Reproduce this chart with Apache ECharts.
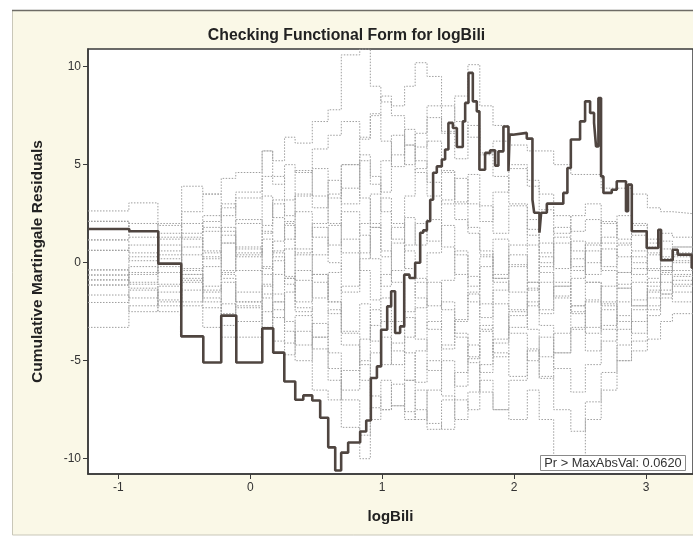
<!DOCTYPE html>
<html>
<head>
<meta charset="utf-8">
<script src="https://cdn.jsdelivr.net/npm/echarts@6/dist/echarts.min.js"></script>
<style>html,body{margin:0;padding:0;background:#fff}#c{width:693px;height:536px}</style>
</head>
<body>
<div id="c"></div>
<script>
// Observed cumulative martingale residual path (step starts)
const obsX = [-1.227,-0.917,-0.697,-0.523,-0.356,-0.220,-0.106,0.091,0.174,0.258,0.341,0.402,0.470,0.530,0.591,0.644,0.689,0.742,0.833,0.879,0.914,0.960,0.992,1.038,1.068,1.098,1.136,1.167,1.207,1.250,1.288,1.311,1.339,1.364,1.386,1.414,1.452,1.477,1.502,1.536,1.566,1.611,1.629,1.654,1.687,1.717,1.737,1.780,1.818,1.856,1.881,1.919,1.957,1.966,1.990,2.096,2.139,2.152,2.192,2.205,2.248,2.373,2.404,2.430,2.500,2.538,2.576,2.606,2.621,2.639,2.659,2.677,2.740,2.778,2.848,2.864,2.892,3.005,3.093,3.114,3.202,3.240,3.346];
const obsY = [1.72,1.60,-0.05,-3.76,-5.09,-2.70,-5.09,-3.35,-4.59,-6.06,-6.99,-6.77,-7.03,-7.91,-9.42,-10.60,-9.69,-9.17,-8.61,-8.05,-5.88,-5.29,-3.42,-2.23,-1.46,-3.59,-3.25,-0.61,-0.78,0.00,1.53,1.65,2.11,3.21,4.59,4.91,5.26,5.77,7.13,6.87,5.90,7.21,8.15,9.68,8.23,7.72,4.74,5.60,5.73,4.95,5.68,6.95,4.66,6.53,6.62,6.33,3.21,2.55,1.53,2.55,3.01,3.56,4.83,6.28,7.21,8.23,7.64,7.13,5.93,8.40,4.40,3.56,3.72,4.15,2.62,3.98,1.60,0.75,1.68,0.12,0.66,0.41,-0.26];

// Simulated paths (shared step starts)
const simX = [-1.23,-0.92,-0.70,-0.52,-0.36,-0.22,-0.11,0.09,0.17,0.26,0.34,0.47,0.59,0.69,0.83,0.91,0.99,1.07,1.17,1.25,1.34,1.45,1.55,1.65,1.74,1.84,1.96,2.10,2.19,2.30,2.43,2.54,2.66,2.78,2.89,3.01,3.11,3.20];
const sim1 = [2.64,3.05,1.9,3.9,3.5,4.3,4.6,5.7,5.2,6.4,6.1,7.2,7.8,10.6,10.9,9.0,8.2,7.5,6.0,5.2,4.1,3.0,2.2,1.5,0.4,-0.8,-1.5,-2.2,-1.0,-1.8,-2.6,-1.9,-1.2,-0.5,0.3,-0.4,0.2,0.5];
const sim2 = [2.11,1.6,1.2,2.0,1.6,2.8,3.3,4.4,4.0,5.0,4.6,5.8,6.5,7.2,6.3,7.5,8.5,8.0,9.0,10.2,9.5,8.0,7.2,6.4,5.5,6.2,5.0,4.2,3.5,2.4,1.6,2.2,1.0,0.3,-0.6,0.4,1.1,0.8];
const sim3 = [1.16,0.5,1.3,0.4,1.8,1.0,2.2,1.5,3.0,2.4,3.5,2.8,4.2,3.0,5.2,4.4,3.6,5.5,6.8,5.9,7.4,6.6,8.5,10.1,8.0,7.0,6.0,5.7,5.7,5.0,4.5,4.5,3.8,3.8,3.5,2.8,2.6,2.5];
const sim4 = [0.63,0.9,-0.2,1.3,0.6,-0.5,0.4,1.2,0.3,-0.8,0.5,1.8,0.9,2.6,1.4,0.2,-1.2,-0.4,0.9,2.0,1.1,3.2,4.3,3.0,2.1,3.6,4.8,3.9,2.7,1.5,2.4,3.0,2.0,1.2,1.9,0.8,1.5,1.3];
const sim5 = [-0.37,-1.0,0.4,-0.6,-1.5,-0.4,0.8,-0.3,1.1,2.0,0.7,-0.6,-2.0,-3.5,-2.1,-4.0,-5.2,-4.1,-2.8,-3.9,-5.5,-4.2,-3.0,-1.6,-2.8,-1.4,-0.2,0.9,-0.5,-1.7,-0.8,0.6,-0.4,-1.3,-0.3,-1.0,-0.2,-0.6];
const sim6 = [-0.63,-0.2,-1.1,-2.0,-1.2,-2.6,-1.5,-0.2,-1.6,-3.0,-4.2,-3.1,-4.6,-6.5,-5.0,-3.2,-1.8,-3.0,-4.6,-6.1,-5.0,-6.8,-8.0,-6.6,-5.2,-3.9,-2.5,-3.4,-4.8,-3.6,-2.2,-3.3,-2.0,-1.1,-2.2,-1.5,-0.6,-1.1];
const sim7 = [-0.88,-0.5,0.6,1.5,2.4,1.6,0.5,1.9,3.2,2.1,3.4,4.8,3.3,5.0,6.4,7.6,6.2,4.9,6.0,4.6,3.4,4.7,3.1,1.8,0.6,-0.8,0.4,-1.0,-2.4,-1.2,-2.5,-3.6,-2.4,-1.3,-2.2,-1.2,-0.4,0.1];
const sim8 = [-1.14,-1.8,-1.2,-0.3,-1.4,-0.6,-2.0,-1.1,-2.4,-1.5,-0.4,-1.8,-0.5,1.2,-0.4,-1.9,-0.6,1.0,2.3,0.9,2.2,0.8,-0.6,-2.0,-3.4,-2.1,-3.6,-5.0,-3.8,-5.4,-6.6,-5.2,-4.0,-2.7,-3.6,-2.4,-1.6,-2.0];
const sim9 = [-1.65,-2.5,-2.0,-1.0,-2.3,-3.2,-2.2,-3.3,-2.0,-3.5,-5.0,-3.8,-5.4,-7.0,-8.8,-7.4,-6.0,-7.3,-8.0,-6.5,-8.2,-8.5,-7.0,-7.5,-6.0,-7.5,-8.0,-6.5,-8.0,-10.5,-10.0,-8.0,-6.5,-5.0,-4.5,-3.9,-3.0,-2.6];
const sim10 = [-2.03,-1.4,-2.5,-2.2,-3.3,-2.1,-3.0,-1.6,-2.8,-4.1,-2.7,-4.4,-6.0,-8.4,-10.0,-8.0,-7.5,-6.2,-7.6,-8.0,-6.5,-5.0,-6.3,-4.9,-3.5,-4.8,-3.3,-2.0,-3.2,-4.6,-3.3,-2.0,-3.4,-5.0,-4.0,-2.7,-1.8,-1.2];
const sim11 = [-3.30,-2.2,-1.5,-0.6,-1.8,-3.8,-3.8,-2.5,-4.0,-4.7,-3.5,-6.5,-7.0,-5.5,-3.9,-2.4,-3.8,-5.2,-3.8,-2.3,-1.0,-2.4,-3.8,-5.1,-6.6,-7.5,-6.0,-4.4,-5.8,-7.5,-8.6,-7.1,-5.6,-4.2,-3.0,-2.2,-1.4,-0.7];
const sim12 = [-0.37,0.3,-0.5,0.8,2.1,3.0,2.0,3.4,2.3,1.2,2.6,1.3,0.0,-1.5,0.2,1.8,3.3,2.0,0.6,-0.8,-2.2,-0.9,0.6,-0.7,-2.1,-0.6,0.9,2.2,1.0,-0.3,1.1,0.0,1.3,2.4,1.4,0.5,-0.4,0.0];
const sim13 = [-0.88,-1.3,-2.2,-1.4,-0.2,1.0,-0.4,-1.8,-0.6,0.7,-0.9,0.4,1.9,3.8,5.5,4.0,2.6,1.2,-0.3,-1.8,-3.4,-2.0,-3.6,-4.8,-3.2,-4.6,-5.8,-4.5,-5.9,-4.6,-3.4,-4.5,-3.2,-2.0,-1.0,-1.8,-1.0,-1.5];
const sim14 = [1.16,2.0,1.5,2.6,3.5,2.4,3.6,5.7,4.4,3.2,4.7,3.4,2.0,0.5,2.0,3.5,5.2,6.5,5.0,6.6,8.0,6.7,5.3,7.0,5.6,4.4,3.0,1.7,0.5,1.8,0.6,-0.6,0.7,-0.5,0.6,-0.3,0.7,0.3];
const sim15 = [-0.63,-1.1,-1.9,-0.9,0.3,-0.8,-2.0,-3.3,-2.0,-0.8,-2.3,-3.8,-2.4,-4.2,-6.0,-4.6,-3.0,-4.5,-6.0,-4.5,-3.0,-4.4,-2.9,-1.5,-0.2,1.2,-0.1,-1.4,-0.2,1.0,-0.4,0.9,2.1,1.0,0.0,1.0,0.2,-0.4];
const sim16 = [0.63,0.1,0.9,-0.4,0.5,1.8,0.7,-0.6,0.6,1.9,0.4,2.0,3.5,5.0,3.3,1.8,0.3,1.8,3.4,4.8,6.2,4.6,3.0,4.5,2.9,1.5,2.9,1.4,0.0,1.3,-0.2,1.0,-0.2,0.9,2.0,1.2,0.3,0.8];
const sim17 = [-1.14,-0.6,0.2,-0.8,-2.0,-1.0,-2.3,-1.2,0.1,-1.1,-2.5,-1.0,-2.6,-1.2,0.5,2.0,0.6,-1.0,-2.5,-1.0,0.5,1.9,0.4,-1.2,0.3,-1.0,-2.4,-1.0,0.3,-1.0,-2.2,-1.0,-2.1,-3.0,-1.9,-0.8,-1.6,-0.9];
const sim18 = [2.11,1.3,2.0,1.2,0.2,1.4,0.3,1.6,0.5,-0.7,-2.0,-0.6,-2.0,-3.6,-5.2,-6.8,-7.5,-7.3,-6.0,-7.5,-8.5,-7.0,-5.6,-4.2,-5.6,-4.1,-2.7,-1.3,-2.6,-1.2,0.2,-1.0,-2.2,-3.4,-2.4,-1.4,-0.5,0.4];
const simPaths = [sim1,sim2,sim3,sim4,sim5,sim6,sim7,sim8,sim9,sim10,sim11,sim12,sim13,sim14,sim15,sim16,sim17,sim18];

const xTicks = [-1, 0, 1, 2, 3];
const yTicks = [-10, -5, 0, 5, 10];
const X_MIN = -1.23, X_MAX = 3.356, Y_MIN = -10.78, Y_MAX = 10.9;
const statText = 'Pr > MaxAbsVal: 0.0620';

function stepData(xs, ys) {
  const d = xs.map((x, i) => [x, ys[i]]);
  d.push([X_MAX, ys[ys.length - 1]]);
  return d;
}

const FONT = 'Liberation Sans, Arial, sans-serif';
const series = simPaths.map(p => ({
  type: 'line', step: 'end', symbol: 'none', silent: true, clip: true,
  data: stepData(simX, p),
  lineStyle: { color: '#9e9e9e', width: 1, type: [1.5, 1.5] },
  z: 2
}));
series.push({
  type: 'line', step: 'end', symbol: 'none', silent: true, clip: true,
  data: stepData(obsX, obsY),
  lineStyle: { color: '#4f4540', width: 2.6 },
  z: 5
});

const chart = echarts.init(document.getElementById('c'), null, { renderer: 'canvas' });
chart.setOption({
  animation: false,
  backgroundColor: '#ffffff',
  graphic: [
    { type: 'rect', z: -10, shape: { x: 12.5, y: 10.5, width: 700, height: 524.5 },
      style: { fill: '#faf8e7', stroke: '#c9c7b8', lineWidth: 1 } },
    { type: 'line', z: -9, shape: { x1: 12, y1: 10.5, x2: 693, y2: 10.5 },
      style: { stroke: '#6e6c66', lineWidth: 1.5 } },
    { type: 'rect', z: 100, shape: { x: 540.5, y: 455.5, width: 145, height: 15 },
      style: { fill: '#ffffff', stroke: '#8a8a8a', lineWidth: 1 } },
    { type: 'text', z: 101, x: 613, y: 463.5,
      style: { text: statText, fill: '#333', font: '12.8px ' + FONT, align: 'center', verticalAlign: 'middle' } }
  ],
  title: {
    text: 'Checking Functional Form for logBili',
    left: 'center', top: 23,
    textStyle: { fontFamily: FONT, fontSize: 15.8, fontWeight: 'bold', color: '#222' }
  },
  grid: {
    left: 88, right: 0, top: 49, bottom: 62,
    show: true, backgroundColor: '#ffffff', borderColor: '#3a3a3a', borderWidth: 1.5
  },
  xAxis: {
    type: 'value', min: X_MIN, max: X_MAX,
    name: 'logBili', nameLocation: 'middle', nameGap: 35,
    nameTextStyle: { fontFamily: FONT, fontSize: 15, fontWeight: 'bold', color: '#222' },
    axisLine: { show: true, onZero: false, lineStyle: { color: '#3a3a3a', width: 1.5 } },
    axisTick: { show: true, length: 5, customValues: xTicks, lineStyle: { color: '#3a3a3a' } },
    axisLabel: { customValues: xTicks, fontFamily: FONT, fontSize: 12, color: '#333', margin: 8 },
    splitLine: { show: false }
  },
  yAxis: {
    type: 'value', min: Y_MIN, max: Y_MAX,
    name: 'Cumulative Martingale Residuals', nameLocation: 'middle', nameGap: 42,
    nameTextStyle: { fontFamily: FONT, fontSize: 15.5, fontWeight: 'bold', color: '#222' },
    axisLine: { show: true, onZero: false, lineStyle: { color: '#3a3a3a', width: 1.5 } },
    axisTick: { show: true, length: 5, customValues: yTicks, lineStyle: { color: '#3a3a3a' } },
    axisLabel: { customValues: yTicks, fontFamily: FONT, fontSize: 12, color: '#333', margin: 7 },
    splitLine: { show: false }
  },
  series: series
});
</script>
</body>
</html>
